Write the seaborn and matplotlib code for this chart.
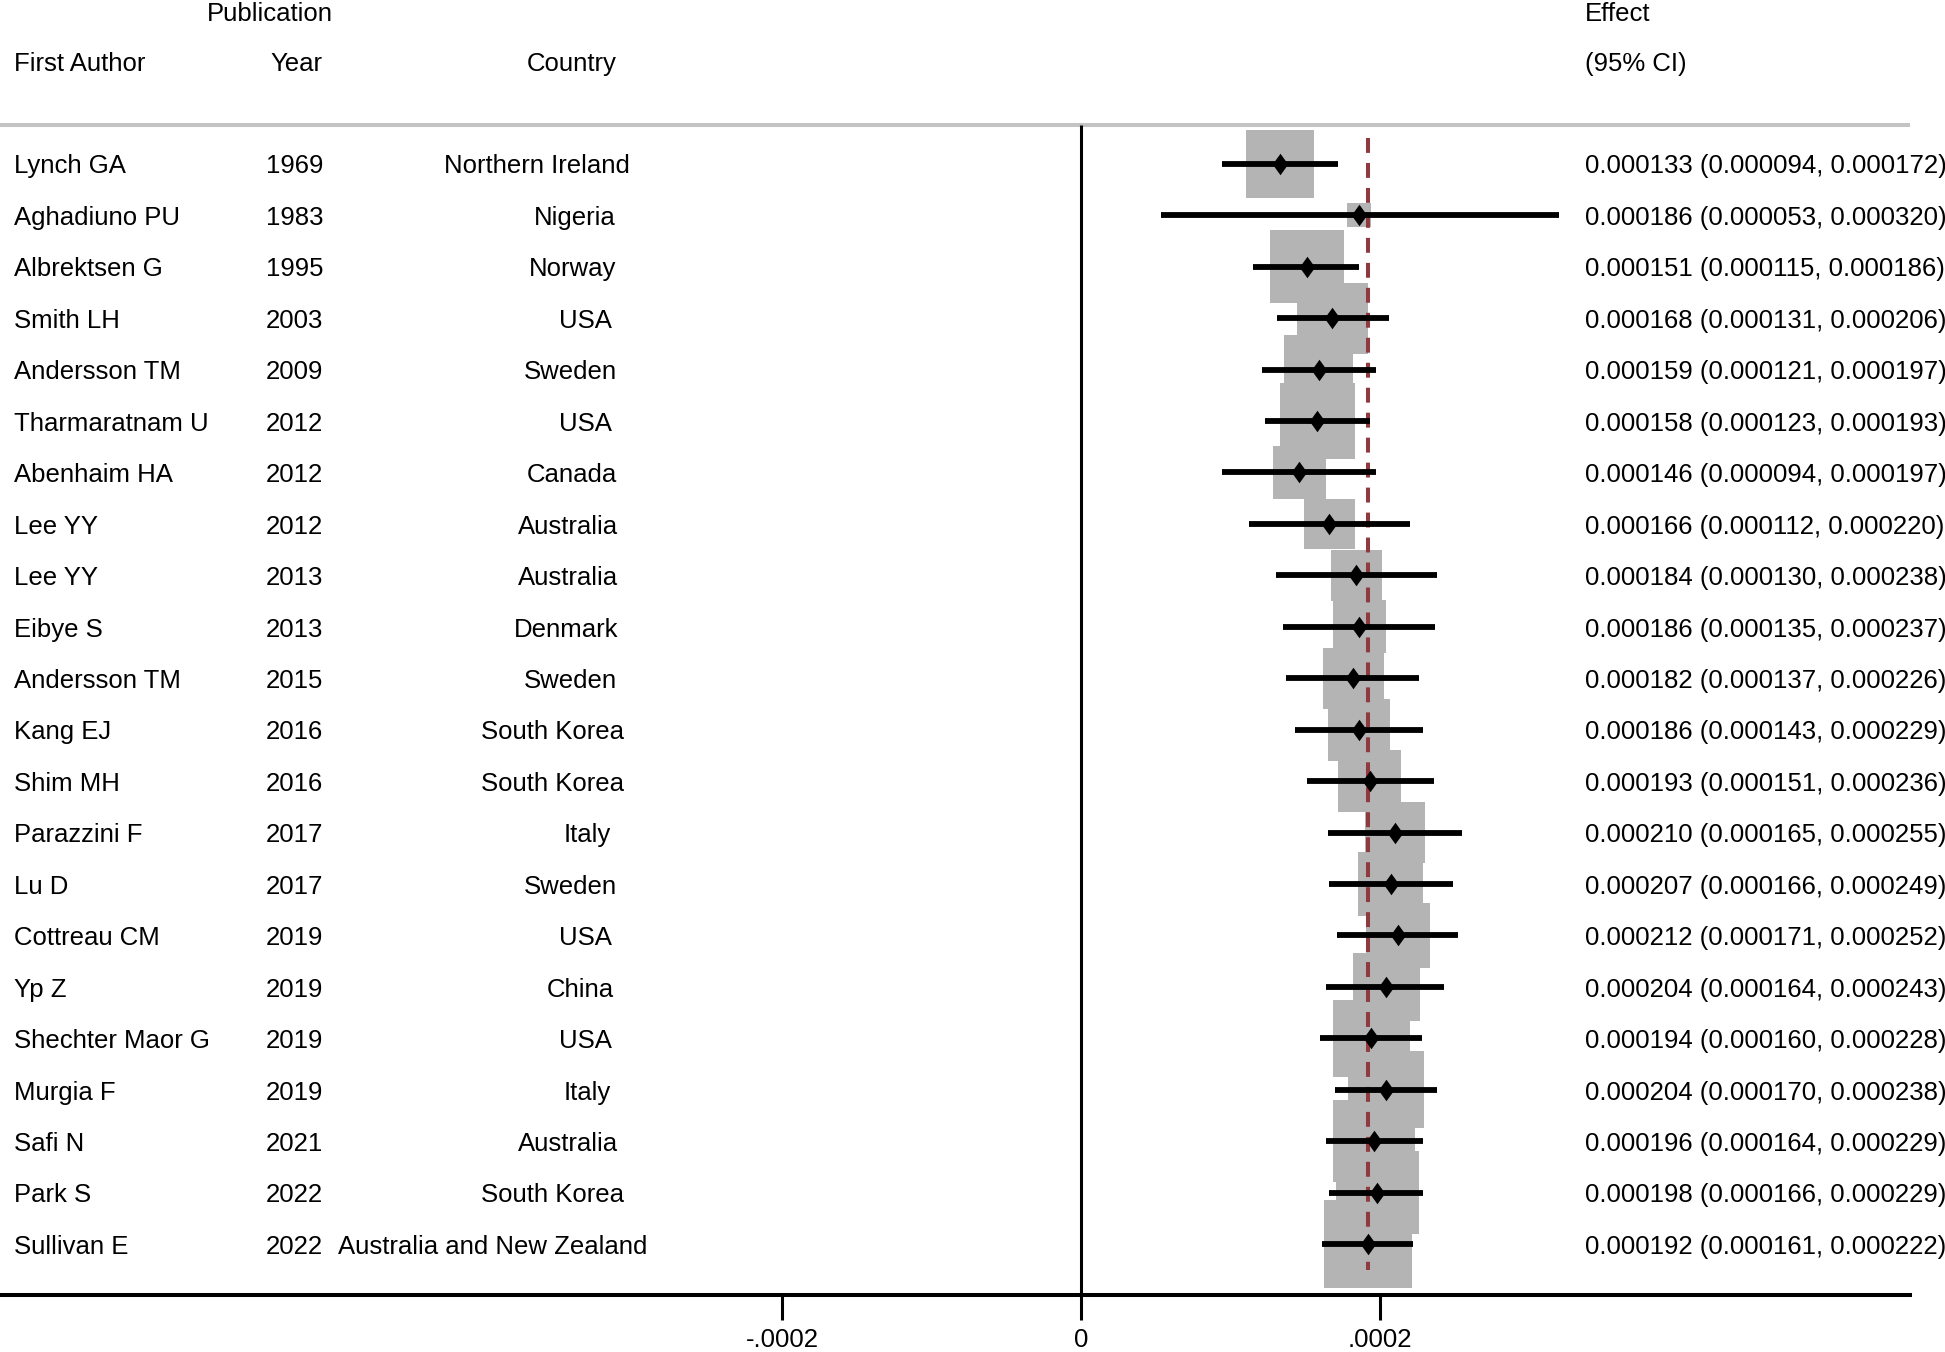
import numpy as np
import pandas as pd
import matplotlib
matplotlib.use("Agg")
import matplotlib.pyplot as plt
import seaborn as sns

# study table
authors = ["Lynch GA", "Aghadiuno PU", "Albrektsen G", "Smith LH", "Andersson TM",
           "Tharmaratnam U", "Abenhaim HA", "Lee YY", "Lee YY", "Eibye S",
           "Andersson TM", "Kang EJ", "Shim MH", "Parazzini F", "Lu D",
           "Cottreau CM", "Yp Z", "Shechter Maor G", "Murgia F", "Safi N",
           "Park S", "Sullivan E"]
years = ["1969", "1983", "1995", "2003", "2009", "2012", "2012", "2012", "2013", "2013",
         "2015", "2016", "2016", "2017", "2017", "2019", "2019", "2019", "2019", "2021",
         "2022", "2022"]
countries = ["Northern Ireland", "Nigeria", "Norway", "USA", "Sweden", "USA", "Canada",
             "Australia", "Australia", "Denmark", "Sweden", "South Korea", "South Korea",
             "Italy", "Sweden", "USA", "China", "USA", "Italy", "Australia", "South Korea",
             "Australia and New Zealand"]
effect = [0.000133, 0.000186, 0.000151, 0.000168, 0.000159, 0.000158, 0.000146, 0.000166,
          0.000184, 0.000186, 0.000182, 0.000186, 0.000193, 0.000210, 0.000207, 0.000212,
          0.000204, 0.000194, 0.000204, 0.000196, 0.000198, 0.000192]
ci_low = [0.000094, 0.000053, 0.000115, 0.000131, 0.000121, 0.000123, 0.000094, 0.000112,
          0.000130, 0.000135, 0.000137, 0.000143, 0.000151, 0.000165, 0.000166, 0.000171,
          0.000164, 0.000160, 0.000170, 0.000164, 0.000166, 0.000161]
ci_high = [0.000172, 0.000320, 0.000186, 0.000206, 0.000197, 0.000193, 0.000197, 0.000220,
           0.000238, 0.000237, 0.000226, 0.000229, 0.000236, 0.000255, 0.000249, 0.000252,
           0.000243, 0.000228, 0.000238, 0.000229, 0.000229, 0.000222]
# weights (%)
weights = [4.66, 0.61, 5.52, 5.14, 4.84, 5.83, 2.82, 2.61, 2.61, 2.82, 3.75, 3.87, 4.00,
           3.70, 4.23, 4.26, 4.59, 5.98, 5.98, 6.79, 7.01, 7.87]
overall = 0.000192

tick_vals = [-0.0002, 0, 0.0002]
tick_labels = ["-.0002", "0", ".0002"]

df = pd.DataFrame({"author": authors, "year": years, "country": countries,
                   "es": effect, "lo": ci_low, "hi": ci_high, "w": weights})
df["row"] = np.arange(len(df))
n = len(df)

sns.set_theme(style="ticks")
plt.rcParams["font.family"] = ["Liberation Sans", "DejaVu Sans"]
FS = 18.5

W, H = 1945, 1352
AXW = 1910          # axes width in px
AXH = 1295          # axis line position from top, px
fig = plt.figure(figsize=(W / 100, H / 100), dpi=100)
ax = fig.add_axes([0, 1 - AXH / H, AXW / W, AXH / H])

# boxes, area ~ weight
sns.scatterplot(data=df, x="es", y="row", size="w", sizes=(0, 5098), size_norm=(0, 10),
                marker="s", color="#b4b4b4", linewidth=0, legend=False, ax=ax, zorder=1)

header_y = -0.746
ybot = 21.988
ax.plot([overall, overall], [-0.5, n - 0.5], color="#8e3a3f", lw=2.9,
        ls=(0, (3.7, 2.5)), zorder=2)
ax.plot([0, 0], [header_y, ybot], color="black", lw=2.2, solid_capstyle="butt", zorder=2)
ax.hlines(df["row"], df["lo"], df["hi"], colors="black", linewidth=4.2, zorder=3)
ax.plot(df["es"], df["row"], ls="none",
        marker=[(0, 1), (0.72, 0), (0, -1), (-0.72, 0), (0, 1)],
        ms=15.5, color="black", mew=0, zorder=4)
ax.axhline(header_y, color="#c3c3c3", lw=2.9, zorder=0)

ax.set_xlim(-0.0007237, 0.0005546)
ax.set_ylim(ybot, -3.182)
ax.set_xticks(tick_vals, tick_labels)
ax.set_yticks([])
ax.set_xlabel("")
ax.set_ylabel("")
ax.tick_params(axis="x", bottom=True, length=18, width=2.2, pad=6, labelsize=FS,
               colors="black", direction="out")
for s in ["top", "right", "left"]:
    ax.spines[s].set_visible(False)
ax.spines["bottom"].set_linewidth(2.9)
ax.spines["bottom"].set_color("black")

trans = ax.get_yaxis_transform()
renderer = fig.canvas.get_renderer()
base = 0.19


def put_left(x_px, y, s):
    ax.text(x_px / AXW, y + base, s, transform=trans, ha="left", va="baseline",
            fontsize=FS, color="black")


def put_right(x_px, y, s):
    # stata-like right justification (slightly overshoots for long strings)
    t = ax.text(x_px / AXW, y + base, s, transform=trans, ha="left", va="baseline",
                fontsize=FS, color="black")
    w = t.get_window_extent(renderer).width
    t.set_x((x_px - 0.859 * w) / AXW)


AUTH_X, YEAR_X, CTRY_X, EFF_X = 13.6, 315.1, 604.1, 1585.2

for i, r in df.iterrows():
    put_left(AUTH_X, r["row"], r["author"])
    put_right(YEAR_X, r["row"], r["year"])
    put_right(CTRY_X, r["row"], r["country"])
    put_left(EFF_X, r["row"], "%.6f (%.6f, %.6f)" % (r["es"], r["lo"], r["hi"]))

put_right(YEAR_X, -2.97, "Publication")
put_left(AUTH_X, -2.0, "First Author")
put_right(YEAR_X, -2.0, "Year")
put_right(CTRY_X, -2.0, "Country")
put_left(EFF_X, -2.97, "Effect")
put_left(EFF_X, -2.0, "(95% CI)")

fig.savefig("out.png", dpi=100)
